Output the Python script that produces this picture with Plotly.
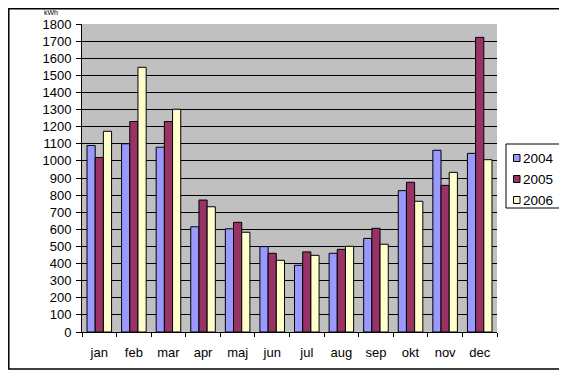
import plotly.graph_objects as go

months = ["jan", "feb", "mar", "apr", "maj", "jun", "jul", "aug", "sep", "okt", "nov", "dec"]
y2004 = [1090, 1100, 1080, 615, 603, 499, 390, 460, 547, 826, 1062, 1044]
y2005 = [1020, 1230, 1230, 771, 641, 460, 468, 483, 606, 875, 857, 1722]
y2006 = [1173, 1547, 1302, 732, 583, 419, 448, 501, 513, 764, 933, 1007]
series = [("2004", y2004, "#9999FF"), ("2005", y2005, "#993366"), ("2006", y2006, "#FFFFCC")]
yticks = list(range(0, 1900, 100))

OFF = 8  # page body margin
FW, FH = 567 - OFF, 377 - OFF
L, R, T, B = 82, 497, 24, 332  # plot area in screen coords
W, H = R - L, B - T


def px(x):
    return (x - L) / W


def py(y):
    return (B - y) / H


fig = go.Figure()
for name, vals, col in series:
    fig.add_trace(go.Bar(x=months, y=vals, name=name, showlegend=False,
                         marker=dict(color=col, line=dict(color="black", width=1))))

font = "Arial, Liberation Sans, sans-serif"
shapes = [dict(type="rect", xref="paper", yref="paper",
               x0=px(OFF + 0.8), x1=px(562), y0=py(369), y1=py(OFF + 0.8),
               line=dict(color="black", width=1.5), layer="below"),
          dict(type="rect", xref="paper", yref="paper",
               x0=px(506), x1=px(561), y0=py(208), y1=py(144),
               line=dict(color="black", width=1), fillcolor="white", layer="below")]
annotations = [dict(text="kWh", xref="paper", yref="paper", x=px(51), y=py(12.5),
                    showarrow=False, font=dict(size=7), xanchor="center", yanchor="middle")]
for i, (name, vals, col) in enumerate(series):
    cy = 158 + i * 21
    shapes.append(dict(type="rect", xref="paper", yref="paper",
                       x0=px(513.5), x1=px(520), y0=py(cy + 3.5), y1=py(cy - 3.5),
                       line=dict(color="black", width=1), fillcolor=col))
    annotations.append(dict(text=name, xref="paper", yref="paper", x=px(520.5), y=py(cy),
                            showarrow=False, xanchor="left", yanchor="middle",
                            font=dict(size=13.5)))

fig.update_layout(
    width=FW, height=FH,
    margin=dict(l=L - OFF, r=567 - R, t=T - OFF, b=377 - B, autoexpand=False),
    paper_bgcolor="white", plot_bgcolor="#C0C0C0",
    barmode="group", bargap=0.29, bargroupgap=0,
    font=dict(family=font, size=13, color="black"),
    showlegend=False,
    xaxis=dict(type="category", tickson="boundaries", ticks="outside", ticklen=4,
               tickcolor="black", showline=True, linecolor="black", linewidth=1,
               showgrid=False, ticklabelstandoff=8, automargin=False),
    yaxis=dict(range=[0, 1800], tickvals=yticks, ticks="outside", ticklen=5,
               tickcolor="black", showline=True, linecolor="black", linewidth=1,
               showgrid=True, gridcolor="black", gridwidth=1, zeroline=False,
               ticklabelstandoff=2, automargin=False),
    shapes=shapes,
    annotations=annotations,
)
fig.write_html("out.html")
